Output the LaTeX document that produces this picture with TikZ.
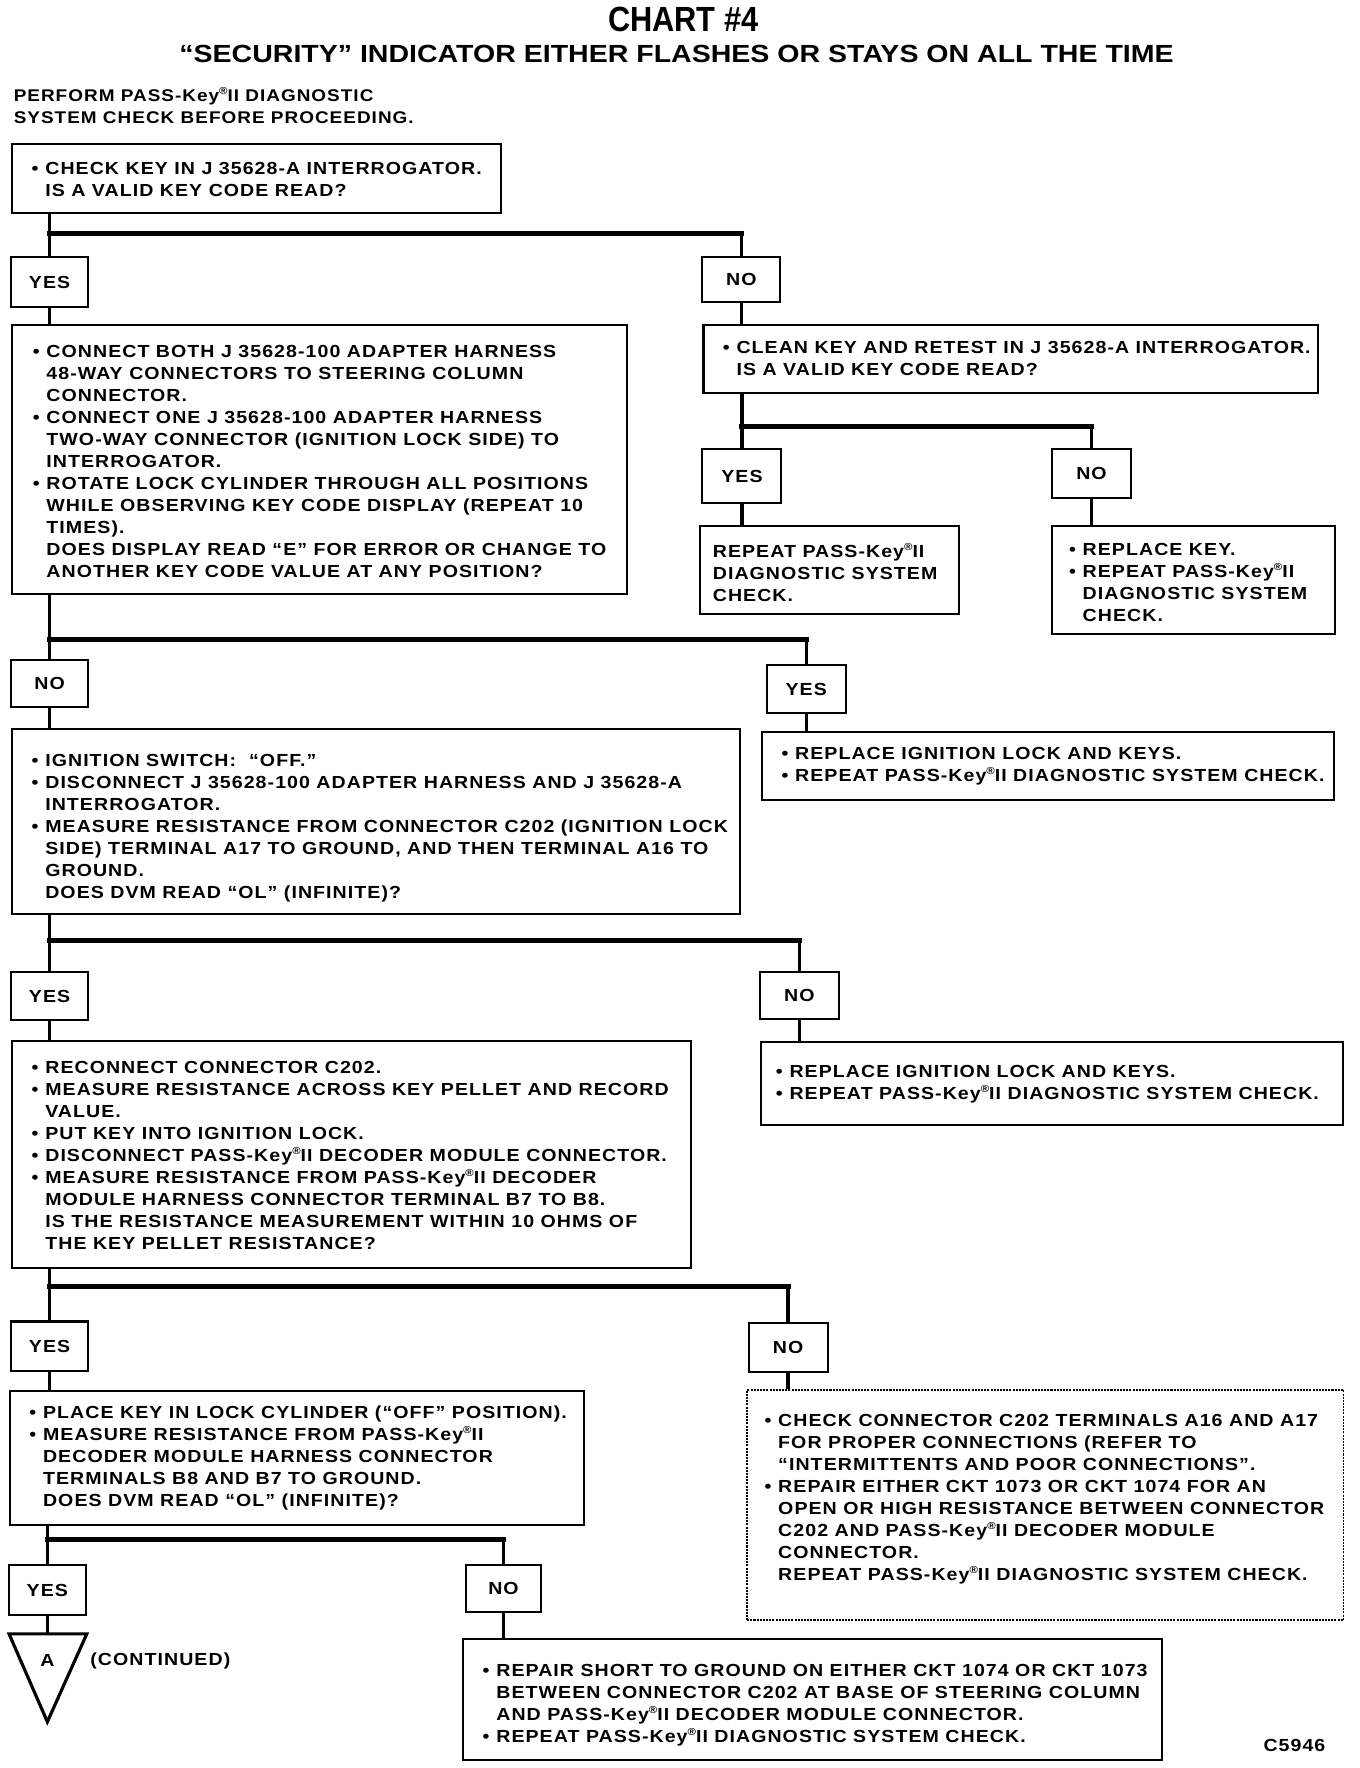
\documentclass[tikz,border=0pt]{standalone}
\usepackage{fontspec}
\setmainfont{Liberation Sans}
\newfontfamily\bodyf{Liberation Sans}[FakeStretch=1.12, LetterSpace=6]
\usepackage{graphicx}
\newcommand{\rg}{\raisebox{0.75ex}{\fontsize{9}{9}\selectfont ®}}
\newcommand{\bul}{\llap{\textbullet\hspace{6pt}}}
\newcommand{\fl}{\rule{0pt}{15pt}}
\begin{document}
\begin{tikzpicture}[x=1pt,y=-1pt,
 box/.style={draw, line width=1.8pt, inner sep=0pt, anchor=north west},
 lab/.style={draw, line width=1.8pt, inner sep=0pt, font=\bodyf\bfseries\fontsize{15.5}{19}\selectfont, text height=11pt, text depth=0pt},
 txt/.style={anchor=north west, yshift=9.45pt, align=left, inner sep=0pt, font=\bodyf\bfseries\fontsize{15.5}{19.5}\selectfont},
 plain/.style={inner sep=0pt, font=\bodyf\bfseries\fontsize{15.5}{19.5}\selectfont},
 conn/.style={line width=3pt},
 bar/.style={line width=4.5pt, line cap=rect}]
\useasboundingbox (0,0) rectangle (1206,1568);

% titles
\node[anchor=base, inner sep=0pt] (title) at (606,28) {\scalebox{0.88}[1]{\bfseries\fontsize{31}{31}\selectfont CHART \#4}};
\node[anchor=base, inner sep=0pt] (sub) at (600,55) {\scalebox{1.15}[1]{\bfseries\fontsize{22}{22}\selectfont “SECURITY” INDICATOR EITHER FLASHES OR STAYS ON ALL THE TIME}};
\node[txt, font=\bodyf\bfseries\fontsize{15}{19.5}\selectfont] (intro) at (12,84) {\fl PERFORM PASS-Key\rg II DIAGNOSTIC\\SYSTEM CHECK BEFORE PROCEEDING.};

% boxes
\node[box, minimum width=433pt, minimum height=61pt] (b1) at (10,127) {};
\node[txt] (t1) at (40,149) {\fl\bul CHECK KEY IN J 35628-A INTERROGATOR.\\IS A VALID KEY CODE READ?};

\node[lab, minimum width=68pt, minimum height=44pt] (yes1) at (44,250) {YES};
\node[lab, minimum width=69pt, minimum height=40pt] (no1) at (657.5,248) {NO};

\node[box, minimum width=545pt, minimum height=239pt] (b2) at (10,287) {};
\node[txt] (t2) at (41,311) {\fl\bul CONNECT BOTH J 35628-100 ADAPTER HARNESS\\
48-WAY CONNECTORS TO STEERING COLUMN\\
CONNECTOR.\\
\bul CONNECT ONE J 35628-100 ADAPTER HARNESS\\
TWO-WAY CONNECTOR (IGNITION LOCK SIDE) TO\\
INTERROGATOR.\\
\bul ROTATE LOCK CYLINDER THROUGH ALL POSITIONS\\
WHILE OBSERVING KEY CODE DISPLAY (REPEAT 10\\
TIMES).\\
DOES DISPLAY READ “E” FOR ERROR OR CHANGE TO\\
ANOTHER KEY CODE VALUE AT ANY POSITION?};

\node[box, minimum width=545pt, minimum height=61pt] (b3) at (623,287) {};
\node[txt] (t3) at (653,308) {\fl\bul CLEAN KEY AND RETEST IN J 35628-A INTERROGATOR.\\IS A VALID KEY CODE READ?};

\node[lab, minimum width=70pt, minimum height=48pt] (yes2) at (658,422) {YES};
\node[lab, minimum width=70pt, minimum height=44pt] (no2) at (968,420) {NO};

\node[box, minimum width=230pt, minimum height=78pt] (b4) at (620,466) {};
\node[txt] (t4) at (632,489) {\fl REPEAT PASS-Key\rg II\\DIAGNOSTIC SYSTEM\\CHECK.};

\node[box, minimum width=251pt, minimum height=95pt] (b5) at (932,466) {};
\node[txt] (t5) at (960,487) {\fl\bul REPLACE KEY.\\\bul REPEAT PASS-Key\rg II\\DIAGNOSTIC SYSTEM\\CHECK.};

\node[lab, minimum width=68pt, minimum height=42pt] (no3) at (44,606) {NO};
\node[lab, minimum width=70pt, minimum height=42pt] (yes3) at (715,611) {YES};

\node[box, minimum width=645pt, minimum height=164pt] (b6) at (10,646) {};
\node[txt] (t6) at (40,674) {\fl\bul IGNITION SWITCH:\ \ “OFF.”\\
\bul DISCONNECT J 35628-100 ADAPTER HARNESS AND J 35628-A\\
INTERROGATOR.\\
\bul MEASURE RESISTANCE FROM CONNECTOR C202 (IGNITION LOCK\\
SIDE) TERMINAL A17 TO GROUND, AND THEN TERMINAL A16 TO\\
GROUND.\\
DOES DVM READ “OL” (INFINITE)?};

\node[box, minimum width=507pt, minimum height=61pt] (b7) at (675,648) {};
\node[txt] (t7) at (705,668) {\fl\bul REPLACE IGNITION LOCK AND KEYS.\\\bul REPEAT PASS-Key\rg II DIAGNOSTIC SYSTEM CHECK.};

\node[lab, minimum width=68pt, minimum height=43pt] (yes4) at (44,883.5) {YES};
\node[lab, minimum width=70pt, minimum height=42pt] (no4) at (709,883) {NO};

\node[box, minimum width=602pt, minimum height=202pt] (b8) at (10,922) {};
\node[txt] (t8) at (40,946) {\fl\bul RECONNECT CONNECTOR C202.\\
\bul MEASURE RESISTANCE ACROSS KEY PELLET AND RECORD\\
VALUE.\\
\bul PUT KEY INTO IGNITION LOCK.\\
\bul DISCONNECT PASS-Key\rg II DECODER MODULE CONNECTOR.\\
\bul MEASURE RESISTANCE FROM PASS-Key\rg II DECODER\\
MODULE HARNESS CONNECTOR TERMINAL B7 TO B8.\\
IS THE RESISTANCE MEASUREMENT WITHIN 10 OHMS OF\\
THE KEY PELLET RESISTANCE?};

\node[box, minimum width=516pt, minimum height=74pt] (b9) at (674,923) {};
\node[txt] (t9) at (700,950) {\fl\bul REPLACE IGNITION LOCK AND KEYS.\\\bul REPEAT PASS-Key\rg II DIAGNOSTIC SYSTEM CHECK.};

\node[lab, minimum width=68pt, minimum height=44pt] (yes5) at (44,1194) {YES};
\node[lab, minimum width=70pt, minimum height=44pt] (no5) at (699,1195) {NO};

\node[box, minimum width=509pt, minimum height=119pt] (b10) at (8,1233) {};
\node[txt] (t10) at (38,1252) {\fl\bul PLACE KEY IN LOCK CYLINDER (“OFF” POSITION).\\
\bul MEASURE RESISTANCE FROM PASS-Key\rg II\\
DECODER MODULE HARNESS CONNECTOR\\
TERMINALS B8 AND B7 TO GROUND.\\
DOES DVM READ “OL” (INFINITE)?};

\node[box, densely dotted, line width=1.3pt, minimum width=529pt, minimum height=204pt] (b11) at (662,1232) {};
\node[txt] (t11) at (690,1259) {\fl\bul CHECK CONNECTOR C202 TERMINALS A16 AND A17\\
FOR PROPER CONNECTIONS (REFER TO\\
“INTERMITTENTS AND POOR CONNECTIONS”.\\
\bul REPAIR EITHER CKT 1073 OR CKT 1074 FOR AN\\
OPEN OR HIGH RESISTANCE BETWEEN CONNECTOR\\
C202 AND PASS-Key\rg II DECODER MODULE\\
CONNECTOR.\\
REPEAT PASS-Key\rg II DIAGNOSTIC SYSTEM CHECK.};

\node[lab, minimum width=68pt, minimum height=44pt] (yes6) at (42,1410) {YES};
\node[lab, minimum width=67pt, minimum height=42pt] (no6) at (446.5,1409) {NO};

\node[box, minimum width=620pt, minimum height=107pt] (b12) at (410,1453) {};
\node[txt] (t12) at (440,1481) {\fl\bul REPAIR SHORT TO GROUND ON EITHER CKT 1074 OR CKT 1073\\
BETWEEN CONNECTOR C202 AT BASE OF STEERING COLUMN\\
AND PASS-Key\rg II DECODER MODULE CONNECTOR.\\
\bul REPEAT PASS-Key\rg II DIAGNOSTIC SYSTEM CHECK.};

% continuation triangle
\coordinate (tA) at (42,1449);
\draw[line width=2.8pt, line join=miter] (8,1449) -- (77,1449) -- (42,1527) -- cycle;
\node[plain] (lA) at (42,1473) {A};
\node[plain, anchor=west] (cont) at (80,1473) {(CONTINUED)};
\node[plain] (code) at (1148,1548) {C5946};

% junction coordinates
\coordinate (j1) at (46,207);
\coordinate (j2) at (662,378);
\coordinate (j3) at (46,567);
\coordinate (j4) at (46,834);
\coordinate (j5) at (46,1141);
\coordinate (j6) at (44,1365);

% connectors
\draw[conn] (b1.south -| yes1) -- (yes1.north);
\draw[bar] (j1 -| yes1) -- (j1 -| no1);
\draw[conn] (j1 -| no1) -- (no1.north);
\draw[conn] (yes1.south) -- (yes1.south |- b2.north);
\draw[conn] (no1.south) -- (no1.south |- b3.north);

\draw[conn] (b3.south -| yes2) -- (yes2.north);
\draw[bar] (j2 -| yes2) -- (j2 -| no2);
\draw[conn] (j2 -| no2) -- (no2.north);
\draw[conn] (yes2.south) -- (yes2.south |- b4.north);
\draw[conn] (no2.south) -- (no2.south |- b5.north);

\draw[conn] (b2.south -| no3) -- (no3.north);
\draw[bar] (j3 -| no3) -- (j3 -| yes3);
\draw[conn] (j3 -| yes3) -- (yes3.north);
\draw[conn] (no3.south) -- (no3.south |- b6.north);
\draw[conn] (yes3.south) -- (yes3.south |- b7.north);

\draw[conn] (b6.south -| yes4) -- (yes4.north);
\draw[bar] (j4 -| yes4) -- (j4 -| no4);
\draw[conn] (j4 -| no4) -- (no4.north);
\draw[conn] (yes4.south) -- (yes4.south |- b8.north);
\draw[conn] (no4.south) -- (no4.south |- b9.north);

\draw[conn] (b8.south -| yes5) -- (yes5.north);
\draw[bar] (j5 -| yes5) -- (j5 -| no5);
\draw[conn] (j5 -| no5) -- (no5.north);
\draw[conn] (yes5.south) -- (yes5.south |- b10.north);
\draw[conn] (no5.south) -- (no5.south |- b11.north);

\draw[conn] (b10.south -| yes6) -- (yes6.north);
\draw[bar] (j6 -| yes6) -- (j6 -| no6);
\draw[conn] (j6 -| no6) -- (no6.north);
\draw[conn] (yes6.south) -- (tA);
\draw[conn] (no6.south) -- (no6.south |- b12.north);
\end{tikzpicture}
\end{document}
